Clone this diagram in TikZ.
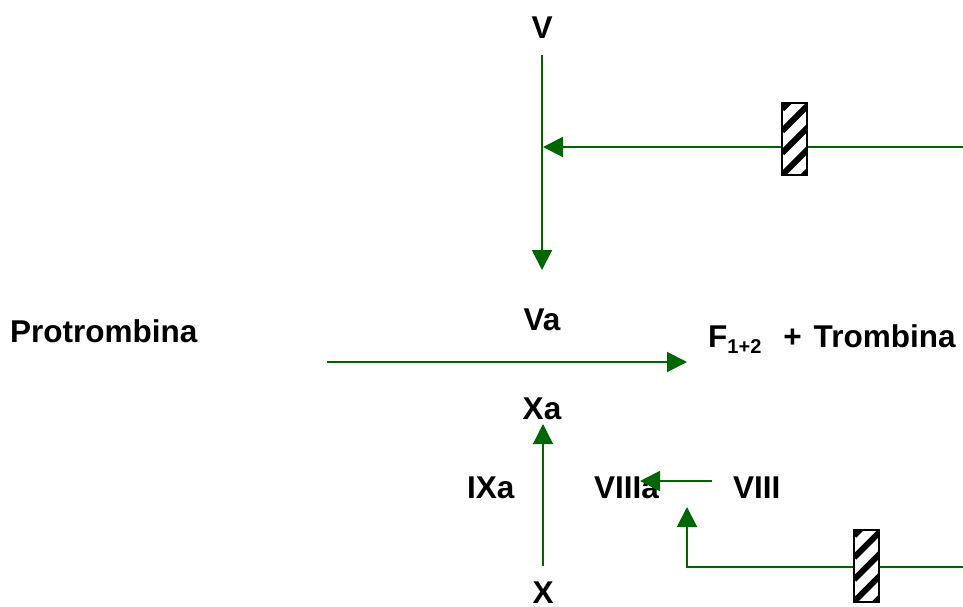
\documentclass[tikz,border=0pt]{standalone}
\usepackage{fontspec}
\setmainfont{Liberation Sans}
\usetikzlibrary{arrows.meta}
\definecolor{arrowgreen}{RGB}{0,102,0}
\begin{document}
\begin{tikzpicture}[x=1pt,y=-1pt,
  lbl/.style={inner sep=0pt,font=\fontsize{31.5}{34}\selectfont\bfseries},
  conn/.style={draw=arrowgreen,line width=2pt},
  tip/.style={-{Triangle[length=20pt,width=20pt]},arrowgreen},
  hatchbox/.style={draw=black,line width=2pt,minimum width=25pt,minimum height=72pt,inner sep=0pt,fill=white,
    path picture={\foreach \k in {-4,...,4}
      \draw[black,line width=6pt] ([yshift=\k*22pt]path picture bounding box.south west) -- ++(40pt,40pt);}}]
\useasboundingbox (0,0) rectangle (963,606);
% labels
\node[lbl,anchor=base] (V) at (542,38) {V};
\node[lbl,anchor=base] (Va) at (542,330) {Va};
\node[lbl,anchor=base] (Xa) at (542,419) {Xa};
\node[lbl,anchor=base] (X) at (543,603) {X};
\node[lbl,anchor=base west] (IXa) at (467,498) {IXa};
\node[lbl,anchor=base west] (VIIIa) at (594,498) {VIIIa};
\node[lbl,anchor=base west] (VIII) at (733,498) {VIII};
\node[lbl,anchor=base west] (Pro) at (10,342) {Protrombina};
\node[lbl,anchor=base west] (Tro) at (708,347) {F{\fontsize{20}{20}\selectfont\raisebox{-6pt}{1+2}}\hspace{22pt}+\hspace{12pt}Trombina};
% endpoints
\coordinate (vtop) at (542,55);
\coordinate (vbot) at (542,270);
\coordinate (junc) at (543,147);
\coordinate (rin1) at (963,147);
\coordinate (pstart) at (327,362);
\coordinate (pend) at (687,362);
\coordinate (xbot) at (543,566);
\coordinate (xtop) at (543,424);
\coordinate (eightR) at (712,481);
\coordinate (eightL) at (640,481);
\coordinate (rin2) at (963,567);
\coordinate (corner) at (687,567);
\coordinate (uptip) at (687,507);
% connectors
\draw[conn,tip] (vtop) -- (vbot);
\draw[conn,tip] (rin1) -- (junc);
\draw[conn,tip] (pstart) -- (pend);
\draw[conn,line width=1.3pt,tip] (xbot) -- (xtop);
\draw[conn,tip] (eightR) -- (eightL);
\draw[conn,tip] (rin2) -- (corner) -- (uptip);
% inhibitor boxes
\node[hatchbox] (h1) at (794.5,139) {};
\node[hatchbox] (h2) at (866.5,565.5) {};
\end{tikzpicture}
\end{document}
